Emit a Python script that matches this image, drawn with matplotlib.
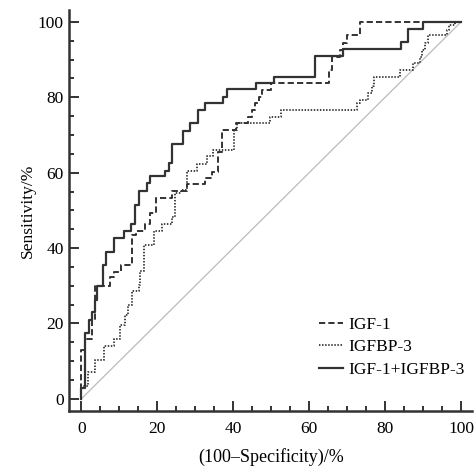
import numpy as np
import matplotlib
matplotlib.use("Agg")
import matplotlib.pyplot as plt
from matplotlib.ticker import MultipleLocator

plt.rcParams['font.family'] = ['Liberation Serif', 'DejaVu Serif']

# step corners: curve goes right to x, then up to y
igf1_fpr = [0, 0, 1.0, 2.8, 3.7, 7.5, 8.6, 10.4, 13.3, 14.3, 16.8, 18.2, 19.7, 23.9, 27.8,
            32.6, 34.4, 36.1, 37.0, 40.8, 44.0, 44.9, 45.8, 46.7, 47.5, 49.9, 65.2, 66.0,
            68.2, 69.0, 69.9, 73.5, 100]
igf1_tpr = [0, 13, 15.8, 21, 30, 32.2, 33.6, 35.4, 43.5, 44.4, 46.3, 49.3, 53.2, 55.2, 57,
            58.5, 60.3, 65.6, 71.3, 73.1, 74.9, 76.7, 78.4, 80.2, 82, 83.7, 87.3, 90.8,
            92.6, 94.3, 96.6, 100, 100]

igfbp3_fpr = [0, 0, 1.7, 3.7, 6.0, 8.6, 10.2, 11.5, 12.2, 13.3, 15.1, 15.5, 16.4, 19.0, 21.2,
              23.9, 24.7, 26.3, 27.8, 30.4, 33.2, 34.6, 40.1, 41.0, 49.8, 52.6, 72.5, 73.4,
              75.6, 76.5, 77.0, 83.9, 87.4, 89.2, 89.6, 90.5, 91.4, 96.2, 96.7, 98.4, 100]
igfbp3_tpr = [0, 3.3, 7, 10.3, 14, 15.8, 19.6, 22.3, 24.8, 28.5, 30.2, 33.8, 40.8, 44.6, 46.4,
              48.2, 54.6, 55.4, 60.5, 62.2, 64.3, 66, 71.2, 73.1, 74.9, 76.6, 78.4, 79.3,
              81.1, 82.9, 85.5, 87.3, 89, 90.8, 92.6, 94.3, 96.6, 97.9, 99.2, 100, 100]

combo_fpr = [0, 0, 1.0, 1.9, 2.8, 3.7, 4.1, 5.6, 6.5, 8.5, 11.1, 13.2, 14.2, 15.3, 17.2, 18.2,
             22.1, 23.2, 23.9, 26.8, 28.7, 30.7, 32.6, 37.3, 38.3, 46.0, 50.6, 61.4, 69.0,
             84.2, 86.1, 90.1, 100]
combo_tpr = [0, 3, 17.5, 21, 23, 26.3, 30, 35.4, 39, 42.6, 44.4, 46.3, 51.5, 55.2, 57.2, 59,
             60.5, 62.6, 67.6, 71.1, 73.2, 76.7, 78.5, 80.1, 82.2, 83.8, 85.5, 91, 92.8,
             94.6, 98.1, 100, 100]

labels = ['IGF-1', 'IGFBP-3', 'IGF-1+IGFBP-3']

fig = plt.figure(figsize=(4.74, 4.68), dpi=100)
ax = fig.add_axes([0.146, 0.122, 0.85, 0.857])

ax.plot([0, 100], [0, 100], color='#bbbbbb', lw=0.9, zorder=1)
ax.plot(igf1_fpr, igf1_tpr, drawstyle='steps-post', color='#333333', lw=1.4,
        linestyle=(0, (3.2, 1.6)), label=labels[0])
ax.plot(igfbp3_fpr, igfbp3_tpr, drawstyle='steps-post', color='#333333', lw=1.3,
        linestyle=(0, (0.8, 0.9)), label=labels[1])
ax.plot(combo_fpr, combo_tpr, drawstyle='steps-post', color='#333333', lw=1.6,
        label=labels[2])

ax.set_xlim(-3.2, 102.9)
ax.set_ylim(-3.2, 103.2)
ax.xaxis.set_major_locator(MultipleLocator(20))
ax.xaxis.set_minor_locator(MultipleLocator(5))
ax.yaxis.set_major_locator(MultipleLocator(20))
ax.yaxis.set_minor_locator(MultipleLocator(5))
ax.tick_params(axis='both', which='both', direction='in', color='#333333', width=1.4,
               labelsize=12.5)
ax.tick_params(which='major', length=7)
ax.tick_params(which='minor', length=3.5)
ax.tick_params(axis='x', pad=7)
ax.tick_params(axis='y', pad=4)

for s in ['top', 'right']:
    ax.spines[s].set_visible(False)
for s in ['left', 'bottom']:
    ax.spines[s].set_linewidth(1.8)
    ax.spines[s].set_color('#333333')

ax.set_xlabel('(100–Specificity)/%', fontsize=13, labelpad=8)
ax.set_ylabel('Sensitivity/%', fontsize=12.5, labelpad=1)

ax.legend(loc='lower left', bbox_to_anchor=(0.62, 0.083), frameon=False, fontsize=12.5,
          handlelength=1.4, handletextpad=0.3, labelspacing=0.35, borderpad=0,
          borderaxespad=0)

fig.savefig('out.png', dpi=100)
